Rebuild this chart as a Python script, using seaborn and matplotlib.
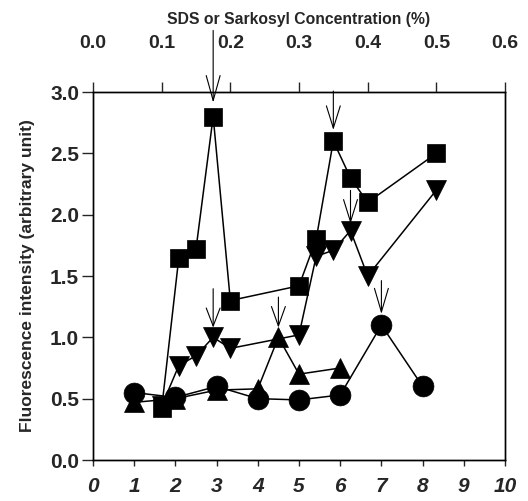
import numpy as np
import pandas as pd
import matplotlib
matplotlib.use("Agg")
import matplotlib.pyplot as plt
import seaborn as sns

# Bottom axis series (circles, up-triangles)
circle_x = [1, 2, 3, 4, 5, 6, 7, 8]
circle_y = [0.55, 0.51, 0.60, 0.50, 0.49, 0.53, 1.10, 0.60]

uptri_x = [1, 2, 3, 4, 4.5, 5, 6]
uptri_y = [0.47, 0.50, 0.57, 0.58, 1.00, 0.70, 0.75]

# Top axis series: SDS / Sarkosyl concentration (%)
conc = [0.1, 0.125, 0.15, 0.175, 0.2, 0.3, 0.325, 0.35, 0.375, 0.4, 0.5]
square_y = [0.42, 1.65, 1.72, 2.80, 1.30, 1.42, 1.80, 2.60, 2.30, 2.10, 2.50]
downtri_y = [0.44, 0.77, 0.85, 1.00, 0.91, 1.02, 1.66, 1.71, 1.87, 1.50, 2.20]

bottom_ticks = list(range(0, 11))
top_ticks = [0.0, 0.1, 0.2, 0.3, 0.4, 0.5, 0.6]
y_ticks = [0.0, 0.5, 1.0, 1.5, 2.0, 2.5, 3.0]

# arrows: (which series, index of the peak, shaft length pt, tip gap pt, head length pt)
arrows = [
    ("square", 3, 52, 10, 18),
    ("square", 7, 28, 8, 16),
    ("downtri", 8, 24, 5, 16),
    ("downtri", 3, 28, 7, 13),
    ("uptri", 4, 22, 7, 14),
    ("circle", 6, 24, 8, 17),
]

sns.set_style("ticks")
plt.rcParams["font.family"] = ["Liberation Sans", "DejaVu Sans"]
plt.rcParams["font.weight"] = "bold"

fig = plt.figure(figsize=(5.28, 5.01), dpi=100)
ax = fig.add_axes([93 / 528, 41 / 501, 412 / 528, 368 / 501])
ax_top = ax.twiny()

line_kw = dict(color="black", lw=1.1, mec="black", mew=0.5,
               estimator=None, sort=False, legend=False)

sns.lineplot(x=conc, y=square_y, ax=ax_top, marker="s", markersize=13, zorder=3, **line_kw)
sns.lineplot(x=conc, y=downtri_y, ax=ax_top, marker="v", markersize=15, zorder=3, **line_kw)
sns.lineplot(x=uptri_x, y=uptri_y, ax=ax, marker="^", markersize=15, zorder=3, **line_kw)
sns.lineplot(x=circle_x, y=circle_y, ax=ax, marker="o", markersize=15, zorder=4, **line_kw)

ax.set_xlim(0, 10)
ax.set_ylim(0, 3.0)
ax_top.set_xlim(0, 0.6)
ax_top.set_ylim(0, 3.0)

ax.set_xticks(bottom_ticks)
ax.set_xticklabels([str(t) for t in bottom_ticks], fontsize=15,
                   fontweight="bold", fontstyle="italic")
ax.set_yticks(y_ticks)
ax.set_yticklabels([f"{t:.1f}" for t in y_ticks], fontsize=15, fontweight="bold")
ax_top.set_xticks(top_ticks)
ax_top.set_xticklabels([f"{t:.1f}" for t in top_ticks], fontsize=14, fontweight="bold")

ax.tick_params(axis="x", direction="out", length=4, width=1, pad=8)
ax.tick_params(axis="y", direction="out", length=8, width=1, pad=2)
ax.tick_params(axis="y", right=False)
ax_top.tick_params(axis="x", direction="out", length=7, width=1, pad=22)
ax_top.tick_params(axis="y", right=False, left=False, labelright=False)

for a in (ax, ax_top):
    for s in a.spines.values():
        s.set_visible(True)
        s.set_linewidth(1.0)
        s.set_color("black")

ax.set_xlabel("")
ax.set_ylabel("Fluorescence intensity (arbitrary unit)", fontsize=12.5, fontweight="bold")
ax.yaxis.set_label_coords(-0.14, 0.5)
ax_top.set_xlabel("SDS or Sarkosyl Concentration (%)", fontsize=11.3, fontweight="bold")
ax_top.xaxis.set_label_coords(0.5, 1.186)
ax_top.set_ylabel("")

series = {
    "square": (ax_top, conc, square_y),
    "downtri": (ax_top, conc, downtri_y),
    "uptri": (ax, uptri_x, uptri_y),
    "circle": (ax, circle_x, circle_y),
}

for name, idx, length, gap, head in arrows:
    a, xs, ys = series[name]
    a.annotate("", xy=(xs[idx], ys[idx]), xycoords="data",
               xytext=(0, length + gap), textcoords="offset points",
               annotation_clip=False, zorder=5,
               arrowprops=dict(arrowstyle=f"->,head_length={head},head_width=5",
                               mutation_scale=1, lw=0.8, color="black",
                               shrinkA=0, shrinkB=gap))

fig.savefig("out.png", dpi=100)
